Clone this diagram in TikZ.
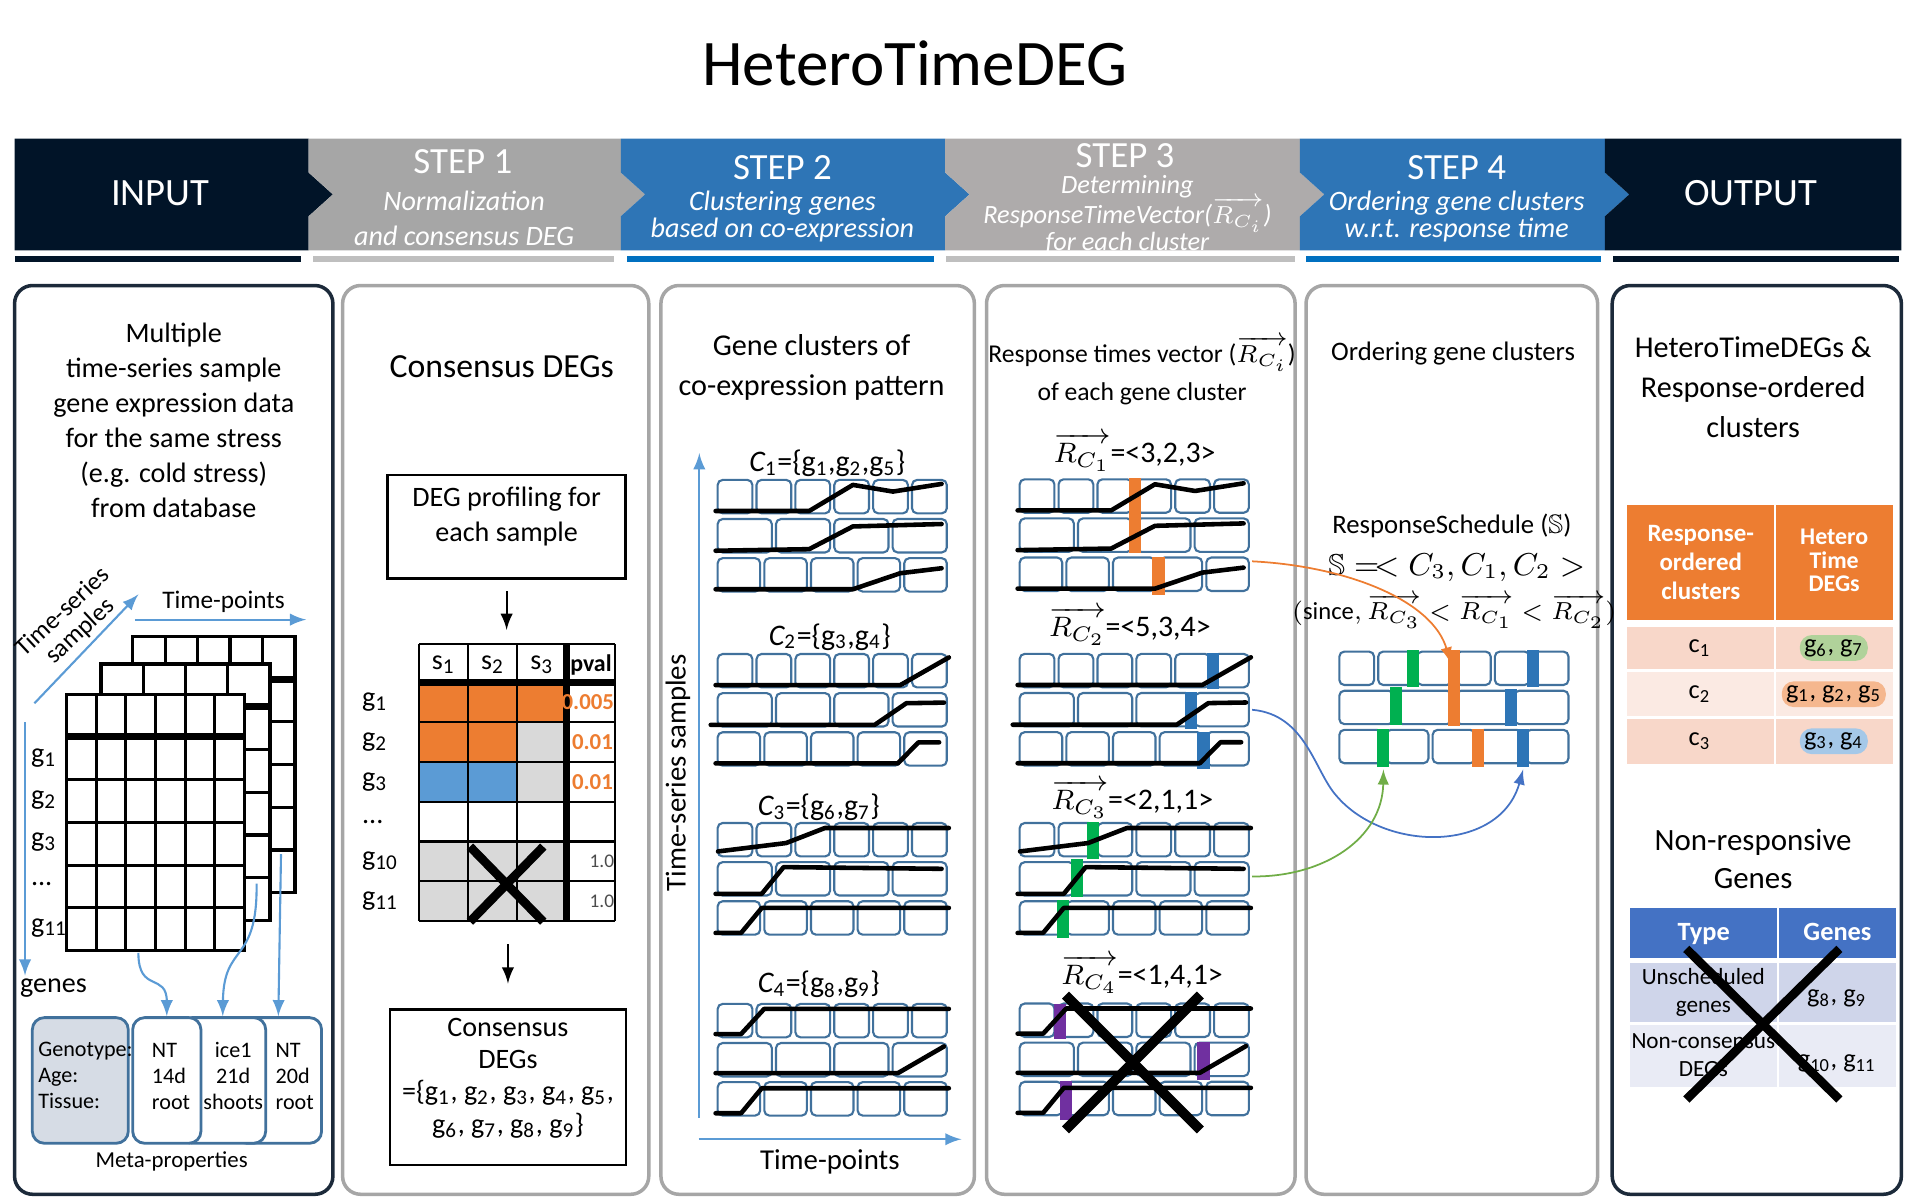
\documentclass[tikz,border=0pt]{standalone}
\usepackage{amsmath}
\usepackage{amssymb}
\usepackage{fontspec}
\setmainfont{Carlito}
\usetikzlibrary{fit}

\definecolor{navy}{HTML}{011428}
\definecolor{stepgray}{HTML}{A6A6A6}
\definecolor{stepgrayb}{HTML}{AEABAB}
\definecolor{stepblue}{HTML}{2E75B6}
\definecolor{ulgray}{HTML}{BFBFBF}
\definecolor{ulblue}{HTML}{0070C0}
\definecolor{panelgray}{HTML}{A6A6A6}
\definecolor{panelnavy}{HTML}{1C2A3A}
\definecolor{boxblue}{HTML}{41719C}
\definecolor{arrowblue}{HTML}{5B9BD5}
\definecolor{degorange}{HTML}{ED7D31}
\definecolor{degblue}{HTML}{5B9BD5}
\definecolor{deggray}{HTML}{D9D9D9}
\definecolor{markblue}{HTML}{2E75B6}
\definecolor{markgreen}{HTML}{00B050}
\definecolor{markpurple}{HTML}{7030A0}
\definecolor{linkgreen}{HTML}{70AD47}
\definecolor{linkblue}{HTML}{4472C4}
\definecolor{metafill}{HTML}{D6DCE5}
\definecolor{rowpeach}{HTML}{F8D7C9}
\definecolor{rowpeachb}{HTML}{FBEAE3}
\definecolor{typerow}{HTML}{CFD5EA}
\definecolor{typerowb}{HTML}{E9EBF5}

\tikzset{
  panel/.style={draw=panelgray, line width=1pt, rounded corners=1.8mm},
  body/.style={inner sep=0pt, align=center, font=\fontsize{8}{10}\selectfont},
  ptitle/.style={inner sep=0pt, align=center, font=\fontsize{8.6}{11.4}\selectfont},
  hdstep/.style={inner sep=0pt, text=white, font=\fontsize{10.5}{12}\selectfont},
  hdsub/.style={inner sep=0pt, text=white, font=\fontsize{8}{9}\selectfont\itshape},
  meta/.style={inner sep=0pt, font=\fontsize{6.3}{7.4}\selectfont},
  metabox/.style={draw=boxblue, line width=0.8pt, rounded corners=1.2mm, fill=white, inner sep=0pt},
  clab/.style={inner sep=0pt, font=\fontsize{8.5}{10}\selectfont},
  tsbox/.style={draw=boxblue, line width=0.6pt, rounded corners=0.5mm, fill=white},
  exprline/.style={line width=1.3pt, line join=round, line cap=round},
  blueline/.style={draw=arrowblue, line width=0.6pt, ->},
  linkline/.style={line width=0.5pt, ->},
  bigx/.style={line width=2.5pt},
  gridline/.style={line width=0.9pt},
  glow/.style={rounded corners=1.2mm, inner sep=1.2pt},
  cell/.style={inner sep=0pt, font=\fontsize{7.5}{9}\selectfont}
}

\newcommand\gsub[1]{g\textsubscript{#1}}
\newcommand\gdots{...}

% three sample rows of time-point boxes (6, 4 and 5 boxes)
\newcommand\tsrows{%
  \foreach \nb/\rw in {6/0,4/1,5/2}{%
    \foreach \k in {1,...,\nb}{%
      \draw[tsbox] ({(\k-1)*192/\nb+1.7},{\rw*32.2}) rectangle ({\k*192/\nb-1.7},{\rw*32.2+27.5});
    }
  }
}

\newcommand\exprgrid[5]{%
  \filldraw[fill=white, gridline] (#1,#2) rectangle (#3,#4);
  \foreach \k in {1,...,#5} \draw[gridline] ({#1+\k*(#3-#1)/#5},#2) -- ({#1+\k*(#3-#1)/#5},#4);
  \foreach \k in {1,...,5} \draw[gridline] (#1,{#2+\k*(#4-#2)/6}) -- (#3,{#2+\k*(#4-#2)/6});
  \draw[line width=2pt] (#1,{#2+(#4-#2)/6}) -- (#3,{#2+(#4-#2)/6});
}

\newcommand\traceCa{%
  \draw[exprline] (0,25.6) -- (77,25.6) -- (113,4.1) -- (146,9.6) -- (186,3.3);
  \draw[exprline] (0,58.3) -- (77,57) -- (113,38.3) -- (186,36.3);
  \draw[exprline] (0,90) -- (113,90) -- (152,76.8) -- (186,72.7);}
\newcommand\traceCb{%
  \draw[exprline] (0,25.6) -- (152,25.6) -- (192,2.8);
  \draw[exprline] (-4,58.3) -- (131,58.3) -- (157,40.5) -- (188,40);
  \draw[exprline] (0,90) -- (150,90) -- (167,72.7) -- (184,72.7);}
\newcommand\traceCc{%
  \draw[exprline] (2,23.4) -- (58,16.5) -- (90,4.1) -- (192,4.1);
  \draw[exprline] (0,58.3) -- (38,58.3) -- (56,36.3) -- (186,37.7);
  \draw[exprline] (0,90.5) -- (21,90.5) -- (38,69.9) -- (192,69.9);}
\newcommand\traceCd{%
  \draw[exprline] (0,24.8) -- (21,24.8) -- (40,4.1) -- (192,4.1);
  \draw[exprline] (0,57) -- (150,57) -- (188,35);
  \draw[exprline] (0,90) -- (21,90) -- (38,69.4) -- (192,69.4);}

\newcommand\marksCa{%
  \fill[degorange] (91.4,-1) rectangle (101.4,61);
  \fill[degorange] (111,64) rectangle (121,95);}
\newcommand\marksCb{%
  \fill[markblue] (156,-1) rectangle (166,29);
  \fill[markblue] (137.7,31) rectangle (147.7,61.5);
  \fill[markblue] (148,64) rectangle (158,95);}
\newcommand\marksCc{%
  \fill[markgreen] (57,-1) rectangle (67,29.5);
  \fill[markgreen] (43.6,29.5) rectangle (53.6,60.5);
  \fill[markgreen] (32.6,63.5) rectangle (42.6,95);}
\newcommand\marksCd{%
  \fill[markpurple] (29.8,0) rectangle (39.8,29.5);
  \fill[markpurple] (148,31.5) rectangle (158,63);
  \fill[markpurple] (34.5,63.5) rectangle (44.5,95.5);}

\begin{document}
\begin{tikzpicture}[x=0.1215mm, y=-0.1215mm, >=latex]
\useasboundingbox (0,0) rectangle (1568,985);

\node[inner sep=0pt, font=\fontsize{18.5}{22}\selectfont] (title) at (753,52) {HeteroTimeDEG};

% header chevrons
\fill[navy] (12,114) -- (254,114) -- (254,142) -- (274,160) -- (254,178) -- (254,206) -- (12,206) -- cycle;
\foreach \xl/\xr/\c in {254/511/stepgray, 511/778/stepblue, 778/1070/stepgrayb, 1070/1321/stepblue}
  \fill[\c] (\xl,114) -- (\xr,114) -- (\xr,142) -- ({\xr+20},160) -- (\xr,178) -- (\xr,206)
    -- (\xl,206) -- (\xl,178) -- ({\xl+20},160) -- (\xl,142) -- cycle;
\fill[navy] (1321,114) -- (1565,114) -- (1565,206) -- (1321,206) -- (1321,178) -- (1341,160) -- (1321,142) -- cycle;
\foreach \xl/\xr/\c in {12/248/navy, 258/505/ulgray, 516/769/ulblue, 779/1066/ulgray, 1075/1318/ulblue, 1328/1563/navy}
  \fill[\c] (\xl,211) rectangle (\xr,216);

\node[hdstep, font=\fontsize{11}{13}\selectfont] (inputlab) at (132,159) {INPUT};
\node[hdstep] (s1lab) at (381,133) {STEP 1};
\node[hdsub] (s1suba) at (382,165) {Normalization};
\node[hdsub] (s1subb) at (382,194) {and consensus DEG};
\node[hdstep] (s2lab) at (644,138) {STEP 2};
\node[hdsub] (s2suba) at (644,167) {Clustering genes};
\node[hdsub] (s2subb) at (644,189) {based on co-expression};
\node[hdstep] (s3lab) at (926,128) {STEP 3};
\node[hdsub, font=\fontsize{7.5}{9}\selectfont\itshape] (s3suba) at (928,154) {Determining};
\node[hdsub, font=\fontsize{7.5}{9}\selectfont\itshape] (s3subb) at (928,177) {ResponseTimeVector($\overrightarrow{R_{C_i}}$)};
\begin{scope}
  \clip (778,114) rectangle (1070,206);
  \node[hdsub, font=\fontsize{7.5}{9}\selectfont\itshape] (s3subc) at (928,200) {for each cluster};
\end{scope}
\node[hdstep] (s4lab) at (1199,138) {STEP 4};
\node[hdsub] (s4suba) at (1199,167) {Ordering gene clusters};
\node[hdsub] (s4subb) at (1199,189) {w.r.t. response time};
\node[hdstep, font=\fontsize{11}{13}\selectfont] (outputlab) at (1441,159) {OUTPUT};

% panels
\draw[panel, draw=panelnavy] (12,235) rectangle (274,983);
\foreach \xl/\xr in {282/534, 544/802, 812/1066, 1075/1315}
  \draw[panel] (\xl,235) rectangle (\xr,983);
\draw[panel, draw=panelnavy] (1327,235) rectangle (1565,983);

% INPUT
\node[body] (inputtxt) at (143,346) {Multiple\\time-series sample\\gene expression data\\for the same stress\\(e.g. cold stress)\\from database};
\exprgrid{109.2}{523.7}{242.8}{734.8}{5}
\exprgrid{83.1}{546.5}{222.2}{757.6}{4}
\exprgrid{54.9}{571.4}{201.1}{782.4}{6}

\coordinate (tsfrom) at (28.3,578.9);
\coordinate (tsto) at (113.9,489.2);
\draw[blueline] (tsfrom) -- (tsto);
\node[body, rotate=43, font=\fontsize{7.2}{7.3}\selectfont] (tslab) at (59,512) {Time-series\\samples};
\coordinate (tpfrom) at (111,510);
\coordinate (tpto) at (252,510);
\draw[blueline] (tpfrom) -- (tpto);
\node[body, font=\fontsize{7.2}{9}\selectfont] (tplab) at (184,495) {Time-points};
\coordinate (gnfrom) at (20.6,594.4);
\coordinate (gnto) at (20.6,803);
\draw[blueline] (gnfrom) -- (gnto);
\node[body] (gnlab) at (44,813) {genes};
\foreach \t/\y [count=\i] in {\gsub{1}/623.8, \gsub{2}/658.3, \gsub{3}/692.8, \gdots/727.3, \gsub{11}/763.5}
  \node[body, anchor=west] (glab\i) at (25,\y) {\t};

\node[metabox, fit={(193.5,837.6) (264.7,941)}] (nt20) {};
\node[metabox, fit={(148,837.6) (218.7,941)}] (ice21) {};
\node[metabox, fit={(109.2,837.6) (165.4,941)}] (nt14) {};
\node[metabox, fill=metafill, fit={(26.6,837.6) (105.6,941)}] (metakeys) {};
\node[meta, align=left, anchor=west] (metakeyt) at (31,885) {Genotype:\\Age:\\Tissue:};
\node[meta, align=left, anchor=west] (nt14t) at (124.5,886) {NT\\14d\\root};
\node[meta, align=center] (ice21t) at (192,886) {ice1\\21d\\shoots};
\node[meta, align=left, anchor=west] (nt20t) at (226.3,886) {NT\\20d\\root};
\node[meta, font=\fontsize{6.5}{7.4}\selectfont] (metalab) at (141.3,956) {Meta-properties};

\coordinate (frontout) at (113.9,784.2);
\coordinate (midout) at (211.2,727.3);
\coordinate (backout) at (231.3,703.1);
\draw[blueline] (frontout) .. controls (113.9,818) and (137.3,800) .. (nt14.north);
\draw[blueline] (midout) .. controls (212,795) and (184,775) .. (ice21.north);
\draw[blueline] (backout) -- (nt20.north);

% STEP 1
\node[ptitle, font=\fontsize{9.6}{11.4}\selectfont] (constitle) at (413,302) {Consensus DEGs};
\node[body, draw, line width=0.8pt, fit={(319,391) (515,476)}] (degprof) {DEG profiling for\\each sample};
\foreach \ca/\cb/\cc [count=\i] in {degorange/degorange/degorange, degorange/degorange/deggray,
    degblue/degblue/deggray, white/white/white, deggray/deggray/deggray, deggray/deggray/deggray}{
  \fill[\ca] (344.9,{561.9+(\i-1)*32.68}) rectangle ++(40.5,32.68);
  \fill[\cb] (385.4,{561.9+(\i-1)*32.68}) rectangle ++(40.5,32.68);
  \fill[\cc] (425.9,{561.9+(\i-1)*32.68}) rectangle ++(40.5,32.68);
}
\foreach \x in {344.9,385.4,425.9,506.4} \draw[line width=0.6pt] (\x,530.3) -- (\x,758);
\draw[line width=0.6pt] (344.9,530.3) -- (506.4,530.3);
\foreach \k in {1,...,6} \draw[line width=0.6pt] (344.9,{561.9+\k*32.68}) -- (506.4,{561.9+\k*32.68});
\draw[line width=2pt] (466.4,530.3) -- (466.4,758);
\draw[line width=2pt] (344.9,561.9) -- (506.4,561.9);
\node[inner sep=0pt, fit={(344.9,530.3) (506.4,758)}] (degtable) {};
\foreach \j in {1,2,3} \node[cell, font=\fontsize{8}{9}\selectfont] (shead\j) at ({344.9+(\j-0.5)*40.5},547) {s\textsubscript{\j}};
\node[cell, font=\fontsize{6.8}{8}\selectfont\bfseries] (pvalhead) at (486.4,547) {pval};
\foreach \t/\y [count=\i] in {\gsub{1}/578.2, \gsub{2}/610.9, \gsub{3}/643.6, \gdots/676.3, \gsub{10}/709, \gsub{11}/741.6}
  \node[body, anchor=west] (rowlab\i) at (297.5,\y) {\t};
\node[cell, anchor=east, text=degorange, font=\fontsize{6.5}{8}\selectfont\bfseries] (pva) at (506,578.2) {0.005};
\node[cell, anchor=east, text=degorange, font=\fontsize{6.5}{8}\selectfont\bfseries] (pvb) at (505,610.9) {0.01};
\node[cell, anchor=east, text=degorange, font=\fontsize{6.5}{8}\selectfont\bfseries] (pvc) at (505,643.6) {0.01};
\node[cell, anchor=east, text=black!70, font=\fontsize{5.5}{7}\selectfont] (pvd) at (506,709) {1.0};
\node[cell, anchor=east, text=black!70, font=\fontsize{5.5}{7}\selectfont] (pve) at (506,741.6) {1.0};
\draw[bigx] (386.8,696.8) -- (447.2,758.6);
\draw[bigx] (447.2,696.8) -- (386.8,758.6);
\node[body, draw, line width=0.8pt, font=\fontsize{8}{9.2}\selectfont, fit={(321,830.7) (515.2,958.9)}] (consbox)
  {Consensus\\DEGs\\=\{\gsub{1}, \gsub{2}, \gsub{3}, \gsub{4}, \gsub{5},\\\gsub{6}, \gsub{7}, \gsub{8}, \gsub{9}\}};
\draw[->, line width=0.6pt, shorten <=1.17mm, shorten >=1.37mm] (degprof.south) -- (degprof.south |- degtable.north);
\draw[->, line width=0.6pt, shorten <=2.24mm, shorten >=2.43mm] (consbox.north |- degtable.south) -- (consbox.north);

% STEP 2
\node[ptitle] (clutitle) at (668,302.5) {Gene clusters of\\co-expression pattern};
\coordinate (tsaxbot) at (575.6,920);
\coordinate (tsaxtop) at (575.6,373);
\draw[blueline] (tsaxbot) -- (tsaxtop);
\coordinate (tpaxl) at (575,937.7);
\coordinate (tpaxr) at (791.4,937.7);
\draw[blueline] (tpaxl) -- (tpaxr);
\node[body, rotate=90, font=\fontsize{8.2}{10}\selectfont] (tsaxlab) at (558,636) {Time-series samples};
\node[body, font=\fontsize{8.2}{10}\selectfont] (tpaxlab) at (683,956) {Time-points};

\node[clab, anchor=base] (cla) at (681,388) {{\itshape C}\textsubscript{1}=\{\gsub{1},\gsub{2},\gsub{5}\}};
\node[clab, anchor=base] (clb) at (683,530.9) {{\itshape C}\textsubscript{2}=\{\gsub{3},\gsub{4}\}};
\node[clab, anchor=base] (clc) at (674,671.2) {{\itshape C}\textsubscript{3}=\{\gsub{6},\gsub{7}\}};
\node[clab, anchor=base] (cld) at (674,817) {{\itshape C}\textsubscript{4}=\{\gsub{8},\gsub{9}\}};
\begin{scope}[shift={(589,395)}] \tsrows \traceCa \end{scope}
\begin{scope}[shift={(589,538.3)}] \tsrows \traceCb \end{scope}
\begin{scope}[shift={(589,677.4)}] \tsrows \traceCc \end{scope}
\begin{scope}[shift={(589,826.3)}] \tsrows \traceCd \end{scope}

% STEP 3
\node[ptitle, font=\fontsize{7.3}{10.7}\selectfont] (rtvtitle) at (940,305) {Response times vector ($\overrightarrow{R_{C_i}}$)\\of each gene cluster};
\node[clab, anchor=base] (rca) at (934,380.8) {$\overrightarrow{R_{C_1}}$=<3,2,3>};
\node[clab, anchor=base] (rcb) at (930,524) {$\overrightarrow{R_{C_2}}$=<5,3,4>};
\node[clab, anchor=base] (rcc) at (932,666.1) {$\overrightarrow{R_{C_3}}$=<2,1,1>};
\node[clab, anchor=base] (rcd) at (940,810.7) {$\overrightarrow{R_{C_4}}$=<1,4,1>};
\begin{scope}[shift={(837.6,394.5)}] \tsrows \marksCa \traceCa \coordinate (rcaout) at (193,67.5); \end{scope}
\begin{scope}[shift={(837.6,538.2)}] \tsrows \marksCb \traceCb \coordinate (rcbout) at (193,46); \end{scope}
\begin{scope}[shift={(837.6,677.4)}] \tsrows \marksCc \traceCc \coordinate (rccout) at (193,44); \end{scope}
\begin{scope}[shift={(837.6,826)}] \tsrows \marksCd \traceCd \end{scope}
\draw[bigx, line width=2.8pt] (877,819) -- (988,930);
\draw[bigx, line width=2.8pt] (988,819) -- (877,930);

% STEP 4
\node[ptitle, font=\fontsize{7.6}{10}\selectfont] (ordtitle) at (1196,291) {Ordering gene clusters};
\node[body, font=\fontsize{7.6}{10}\selectfont] (schedtitle) at (1195,433) {ResponseSchedule ($\mathbb{S}$)};
\node[body, font=\fontsize{8.6}{10}\selectfont] (schedeq) at (1199,467) {$\mathbb{S} =\!< C_3, C_1, C_2 >$};
\node[body, font=\fontsize{7}{9}\selectfont] (schedwhy) at (1197,503) {$(\mathrm{since}, \overrightarrow{R_{C_3}} < \overrightarrow{R_{C_1}} < \overrightarrow{R_{C_2}})$};
\begin{scope}[shift={(1100.7,536.3)}]
  \tsrows \marksCc \marksCa \marksCb
  \coordinate (schedA) at (93,9);
  \coordinate (schedB) at (153,97);
  \coordinate (schedC) at (38,97);
\end{scope}
\draw[linkline, draw=degorange] (rcaout) .. controls (1110,466) and (1180,495) .. (schedA);
\draw[linkline, draw=linkblue] (rcbout) .. controls (1075,588) and (1082,635) .. (1100,655)
  .. controls (1140,702) and (1235,702) .. (schedB);
\draw[linkline, draw=linkgreen] (rccout) .. controls (1090,722) and (1138,690) .. (schedC);

% OUTPUT
\node[ptitle] (outtitle) at (1443,319) {HeteroTimeDEGs \&\\Response-ordered\\clusters};
\fill[degorange] (1339.4,415.3) rectangle (1460.3,510.4);
\fill[degorange] (1461.7,415.3) rectangle (1557.7,510.4);
\node[cell, align=center, text=white, font=\fontsize{7.1}{8.2}\selectfont\bfseries] (rocol) at (1399.9,463) {Response-\\ordered\\clusters};
\node[cell, align=center, text=white, font=\fontsize{6.8}{6.6}\selectfont\bfseries] (htcol) at (1509.7,461.3) {Hetero\\Time\\DEGs};
\foreach \ya/\yb/\c in {515.9/550.7/rowpeach, 553.2/589.7/rowpeachb, 591.7/628.5/rowpeach}{
  \fill[\c] (1339.4,\ya) rectangle (1460.3,\yb);
  \fill[\c] (1461.7,\ya) rectangle (1557.7,\yb);
}
\node[cell] (cra) at (1399.1,533.3) {c\textsubscript{1}};
\node[cell] (crb) at (1399.1,571.4) {c\textsubscript{2}};
\node[cell] (crc) at (1399.1,610.1) {c\textsubscript{3}};
\node[cell, glow, fill=linkgreen!55] (gra) at (1509.4,533.3) {\gsub{6}, \gsub{7}};
\node[cell, glow, fill=degorange!55] (grb) at (1509.4,571.4) {\gsub{1}, \gsub{2}, \gsub{5}};
\node[cell, glow, fill=arrowblue!55] (grc) at (1509.4,610.1) {\gsub{3}, \gsub{4}};

\node[ptitle, font=\fontsize{8.8}{10.9}\selectfont] (nrtitle) at (1443,707) {Non-responsive\\Genes};
\fill[linkblue] (1341.6,747.2) rectangle (1462.9,788.2);
\fill[linkblue] (1464.2,747.2) rectangle (1560.3,788.2);
\fill[typerow] (1341.6,793) rectangle (1462.9,841.2);
\fill[typerow] (1464.2,793) rectangle (1560.3,841.2);
\fill[typerowb] (1341.6,843.3) rectangle (1462.9,894.7);
\fill[typerowb] (1464.2,843.3) rectangle (1560.3,894.7);
\node[cell, text=white, font=\fontsize{7.5}{9}\selectfont\bfseries] (typehead) at (1402.3,768.6) {Type};
\node[cell, text=white, font=\fontsize{7.5}{9}\selectfont\bfseries] (geneshead) at (1512.4,767) {Genes};
\node[cell, align=center, font=\fontsize{6.6}{7.9}\selectfont] (unsch) at (1402,817) {Unscheduled\\genes};
\node[cell] (unschg) at (1512,822) {\gsub{8}, \gsub{9}};
\node[cell, align=center, font=\fontsize{6.6}{7.9}\selectfont] (noncons) at (1402,868.4) {Non-consensus\\DEGs};
\node[cell] (nonconsg) at (1512,875.4) {\gsub{10}, \gsub{11}};
\draw[bigx] (1388,781) -- (1514,905);
\draw[bigx] (1514,781) -- (1388,905);
\end{tikzpicture}
\end{document}
